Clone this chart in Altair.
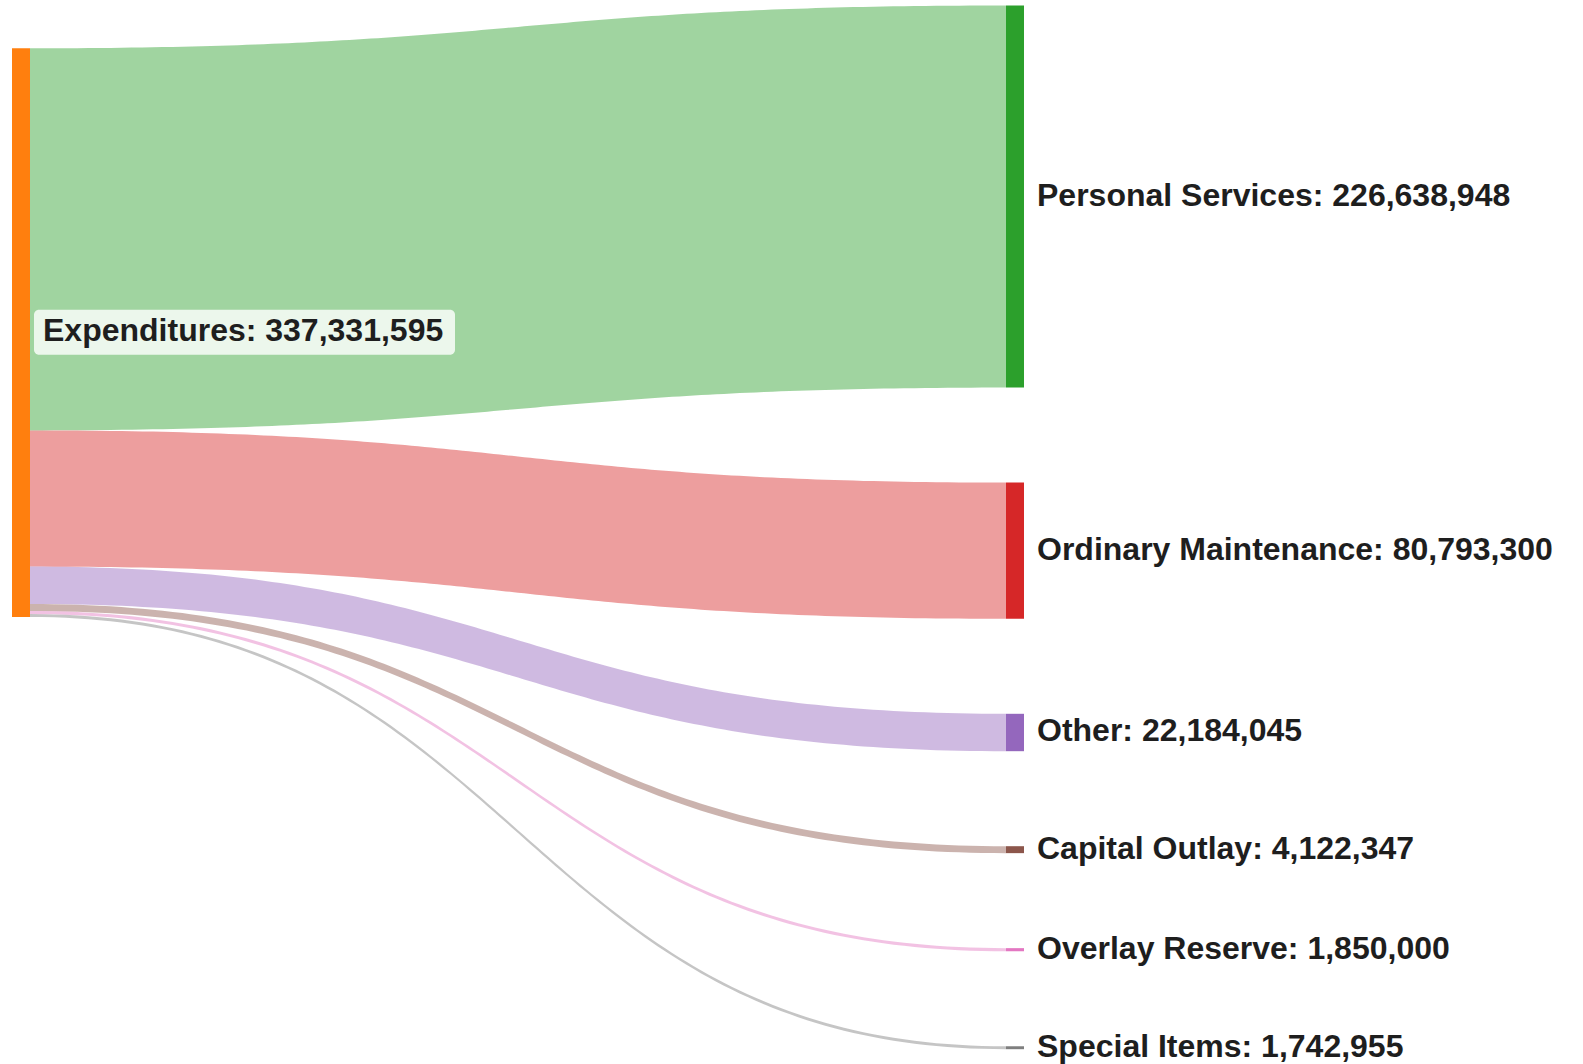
import altair as alt
import numpy as np
import pandas as pd

# ---- data ----
SOURCE = "Expenditures"
TARGETS = ["Personal Services", "Ordinary Maintenance", "Other",
           "Capital Outlay", "Overlay Reserve", "Special Items"]
VALUES = [226638948, 80793300, 22184045, 4122347, 1850000, 1742955]
SOURCE_COLOR = "#ff7f0e"
TARGET_COLORS = ["#2ca02c", "#d62728", "#9467bd", "#8c564b", "#e377c2", "#7f7f7f"]

# ---- layout constants ----
W, H = 1583, 1064
TOTAL = sum(VALUES)
U = TOTAL / 568.7          # value units per pixel (vertical)
Y_MAX = H * U
LEFT_TOP = 48.3 * U
RIGHT_TOP = 5.5 * U
NODE_PAD = 95 * U
XU = 1 / 976.0             # x units per pixel
NODE_W = 18 * XU
X_MIN = -30 * XU
X_MAX = (W - 30) * XU
LINK_OPACITY = 0.45
FONT = "Liberation Sans"

# ---- sankey layout ----
t = np.linspace(0, 1, 121)
bx = 1.5 * t * (1 - t) + t ** 3
by = 3 * t ** 2 - 2 * t ** 3

link_rows = []
node_rows = [dict(name=SOURCE, x0=-NODE_W, x1=0.0, y0=LEFT_TOP, y1=LEFT_TOP + TOTAL,
                  cy=LEFT_TOP + TOTAL / 2, label=f"{SOURCE}: {TOTAL:,}", side="left")]
sy = LEFT_TOP
ty = RIGHT_TOP
for name, v in zip(TARGETS, VALUES):
    a0, a1 = sy, sy + v
    b0, b1 = ty, ty + v
    for xi, si in zip(bx, by):
        link_rows.append(dict(target=name, x=float(xi),
                              top=a0 + (b0 - a0) * si, bot=a1 + (b1 - a1) * si))
    node_rows.append(dict(name=name, x0=1.0, x1=1.0 + NODE_W, y0=b0, y1=b1,
                          cy=(b0 + b1) / 2, label=f"{name}: {v:,}", side="right"))
    sy += v
    ty += v + NODE_PAD

links = pd.DataFrame(link_rows)
nodes = pd.DataFrame(node_rows)

xs = alt.Scale(domain=[X_MIN, X_MAX], nice=False, zero=False)
ys = alt.Scale(domain=[0, Y_MAX], reverse=True, nice=False, zero=False)
cs = alt.Scale(domain=[SOURCE] + TARGETS, range=[SOURCE_COLOR] + TARGET_COLORS)

link_layer = alt.Chart(links).mark_area(opacity=LINK_OPACITY, interpolate="linear").encode(
    x=alt.X("x:Q", scale=xs, axis=None),
    y=alt.Y("top:Q", scale=ys, axis=None, stack=None),
    y2="bot:Q",
    color=alt.Color("target:N", scale=cs, legend=None),
    detail="target:N",
)

node_layer = alt.Chart(nodes).mark_rect().encode(
    x=alt.X("x0:Q", scale=xs, axis=None),
    x2="x1:Q",
    y=alt.Y("y0:Q", scale=ys, axis=None),
    y2="y1:Q",
    color=alt.Color("name:N", scale=cs, legend=None),
)

left = nodes[nodes.side == "left"]
right = nodes[nodes.side == "right"]

box_layer = alt.Chart(left).mark_rect(
    color="white", opacity=0.8, cornerRadius=5,
    xOffset=4, x2Offset=425, yOffset=-23, y2Offset=22,
).encode(
    x=alt.X("x1:Q", scale=xs, axis=None), x2="x1:Q",
    y=alt.Y("cy:Q", scale=ys, axis=None), y2="cy:Q",
)

left_text = alt.Chart(left).mark_text(
    align="left", baseline="middle", dx=13, dy=-2,
    font=FONT, fontSize=32, fontWeight="bold", color="#1e1e1e",
).encode(
    x=alt.X("x1:Q", scale=xs, axis=None),
    y=alt.Y("cy:Q", scale=ys, axis=None),
    text="label:N",
)

right_text = alt.Chart(right).mark_text(
    align="left", baseline="middle", dx=13, dy=-1,
    font=FONT, fontSize=32, fontWeight="bold", color="#1e1e1e",
).encode(
    x=alt.X("x1:Q", scale=xs, axis=None),
    y=alt.Y("cy:Q", scale=ys, axis=None),
    text="label:N",
)

chart = alt.layer(link_layer, node_layer, box_layer, left_text, right_text).properties(
    width=W, height=H, padding=0,
    autosize=alt.AutoSizeParams(type="none"),
).configure_view(stroke=None)

chart.save("out.html", embed_options={"renderer": "svg", "actions": False})
